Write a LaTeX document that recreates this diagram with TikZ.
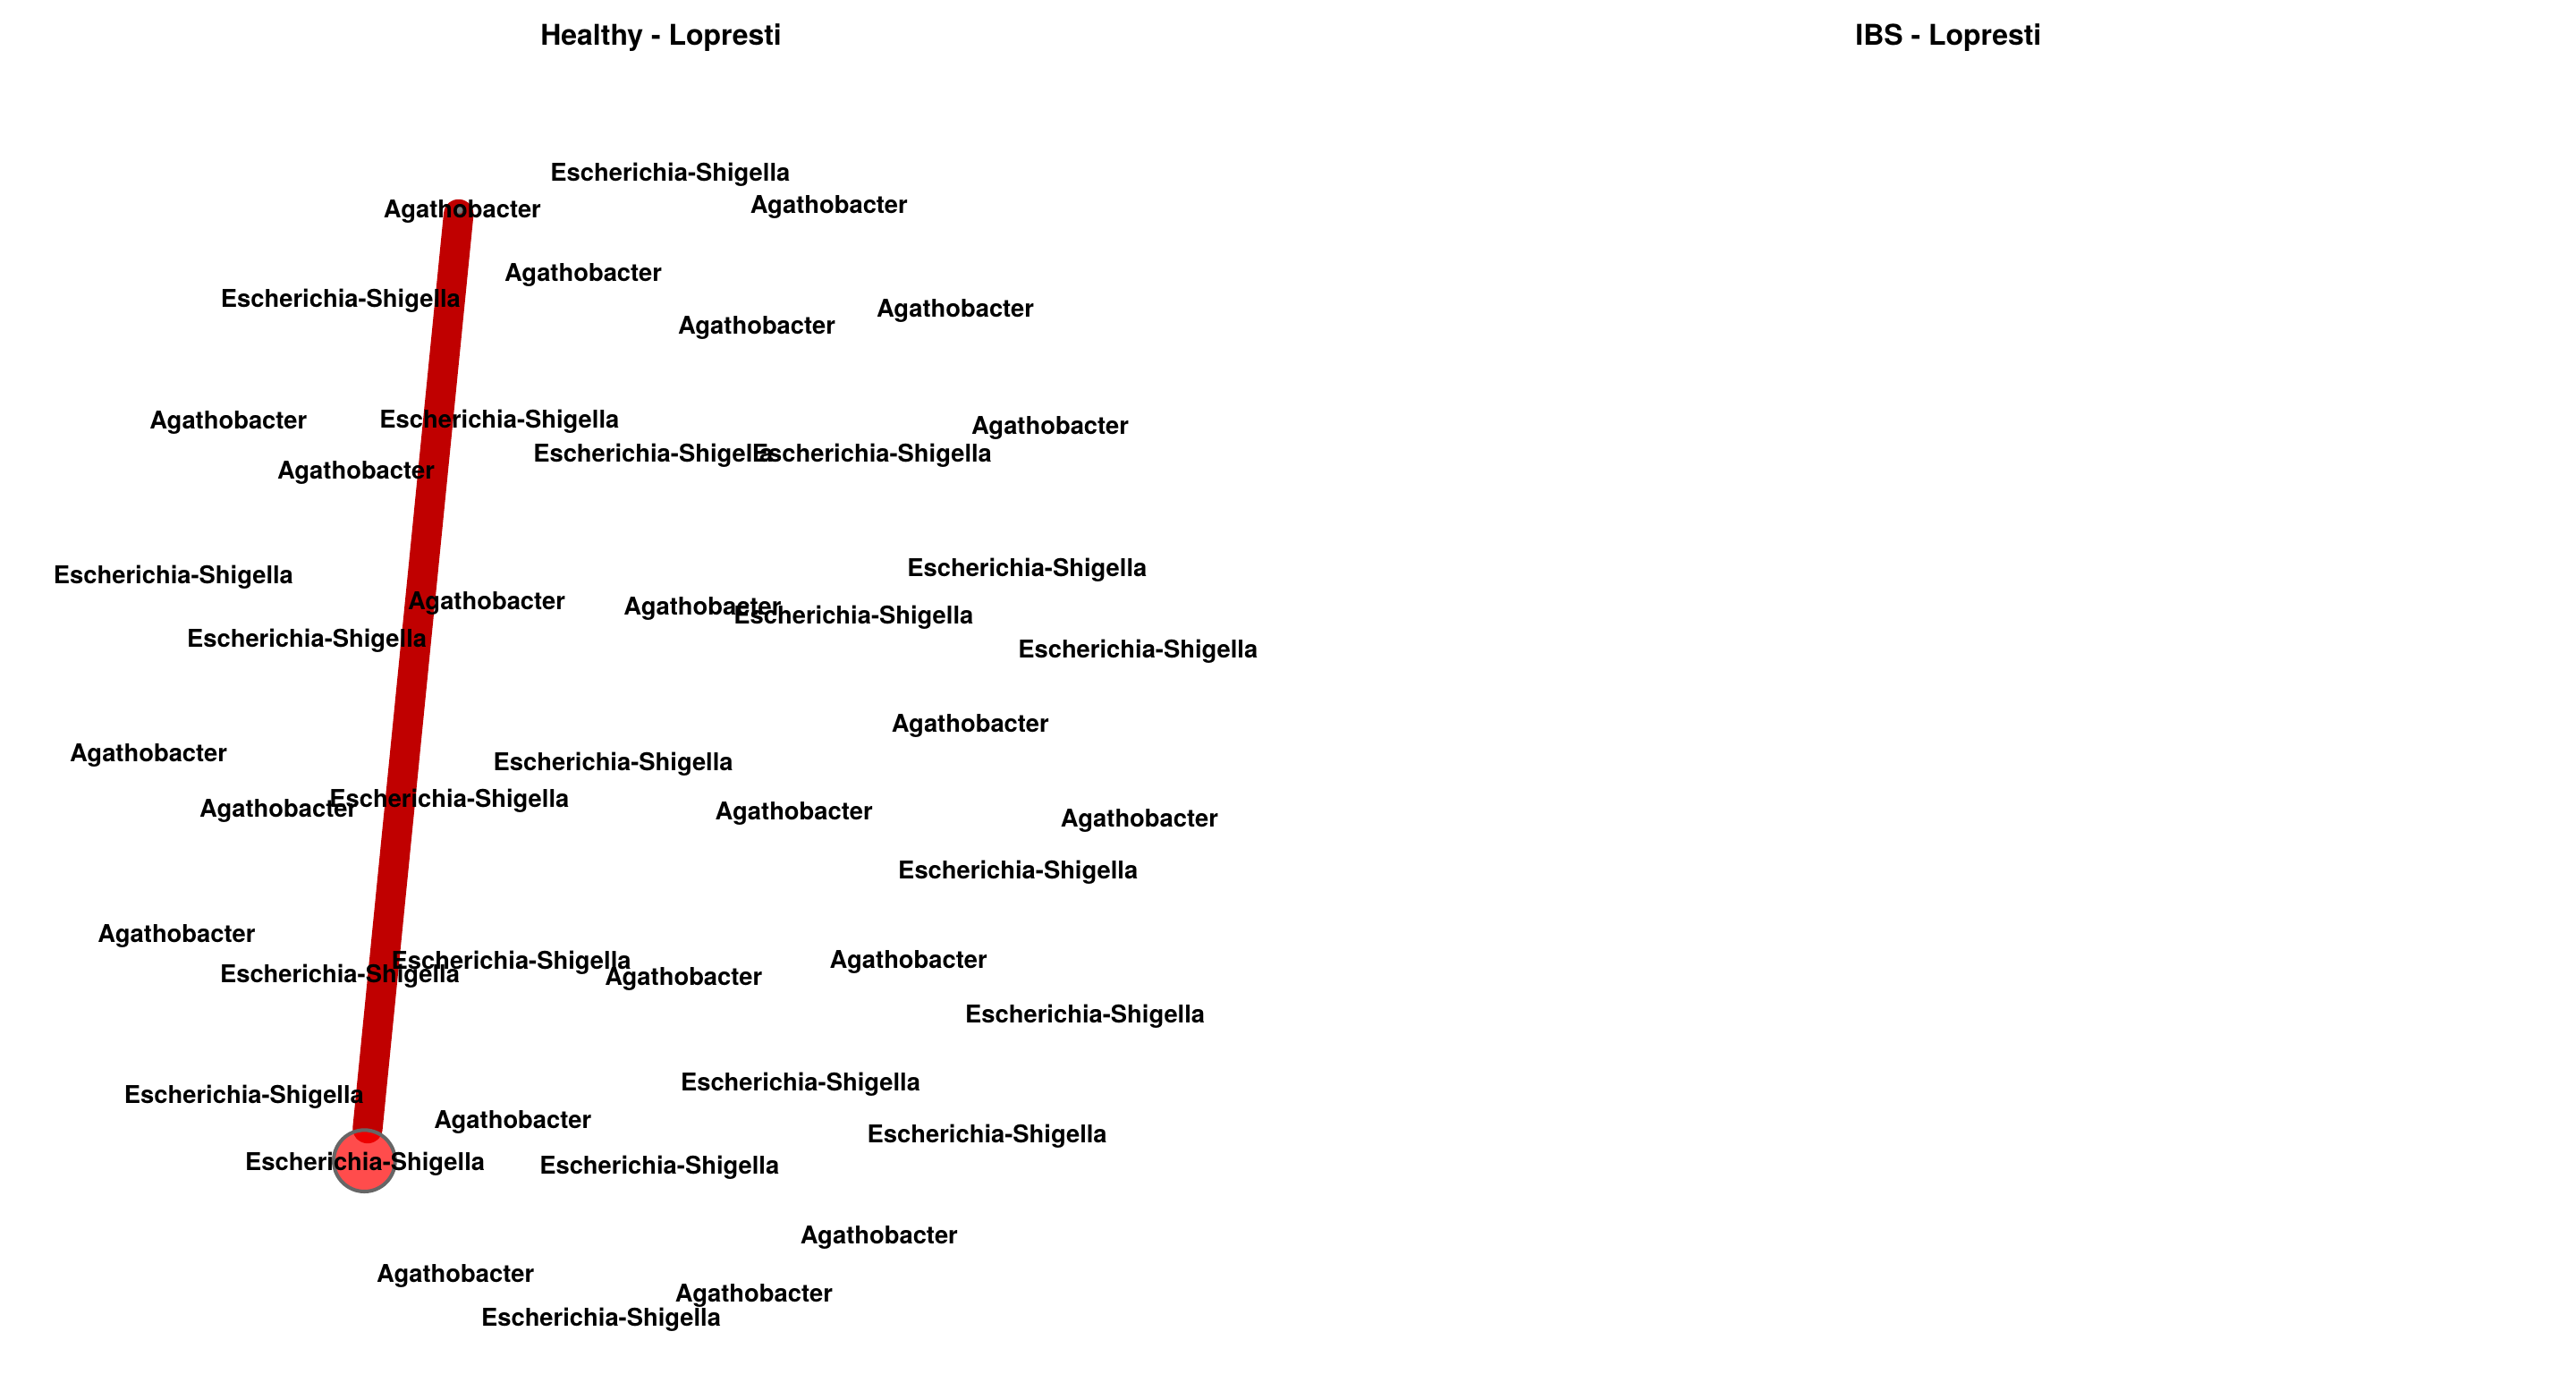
\documentclass[tikz,border=0pt]{standalone}
\usepackage{fontspec}
\setmainfont{TeX Gyre Heros}
\usetikzlibrary{backgrounds}
\definecolor{edgered}{RGB}{192,0,0}
\definecolor{nodeborder}{RGB}{102,102,102}
\tikzset{
  lbl/.style={inner sep=0pt, outer sep=0pt, text height=0.72em, text depth=0pt, anchor=center, yshift=-1.5pt,
              font=\fontsize{14.9pt}{16pt}\selectfont\bfseries},
  ttl/.style={inner sep=0pt, outer sep=0pt, text height=0.72em, text depth=0pt, anchor=center, yshift=-2pt,
              font=\fontsize{17.4pt}{19pt}\selectfont\bfseries},
  bignode/.style={circle, minimum size=37.4pt, inner sep=0pt, fill=red, fill opacity=0.7,
                  draw=nodeborder, draw opacity=1, line width=2.2pt},
  smallnode/.style={circle, minimum size=4.6pt, inner sep=0pt, fill={rgb,255:red,128;green,128;blue,128},
                  draw=nodeborder, line width=0.6pt},
  edgeline/.style={draw=edgered, line width=18.2pt, line cap=round},
}
\begin{document}
\begin{tikzpicture}[x=1pt, y=-1pt]
\useasboundingbox (0,0) rectangle (1568,836);
% titles
\node[ttl] (t1) at (402.4,21.8) {Healthy - Lopresti};
\node[ttl] (t2) at (1186,21.8) {IBS - Lopresti};
% graph nodes
\node[smallnode] (top) at (279.4,127.8) {};
\node[bignode] (bot) at (221.8,706.5) {};
\begin{pgfonlayer}{background}
\draw[edgeline] (top) -- (bot);
\end{pgfonlayer}
% labels
\node[lbl] (n1) at (408,105.3) {Escherichia-Shigella};
\node[lbl] (n2) at (281.4,127.7) {Agathobacter};
\node[lbl] (n3) at (504.6,124.9) {Agathobacter};
\node[lbl] (n4) at (355,166) {Agathobacter};
\node[lbl] (n5) at (207.4,182) {Escherichia-Shigella};
\node[lbl] (n6) at (460.6,198) {Agathobacter};
\node[lbl] (n7) at (581.5,187.8) {Agathobacter};
\node[lbl] (n8) at (139,255.9) {Agathobacter};
\node[lbl] (n9) at (304,255.2) {Escherichia-Shigella};
\node[lbl] (n10) at (397.6,276) {Escherichia-Shigella};
\node[lbl] (n11) at (530.8,276) {Escherichia-Shigella};
\node[lbl] (n12) at (639.2,259.4) {Agathobacter};
\node[lbl] (n13) at (216.7,286.6) {Agathobacter};
\node[lbl] (n14) at (105.6,350.4) {Escherichia-Shigella};
\node[lbl] (n15) at (625.2,345.6) {Escherichia-Shigella};
\node[lbl] (n16) at (296.2,365.7) {Agathobacter};
\node[lbl] (n17) at (427.6,369.4) {Agathobacter};
\node[lbl] (n18) at (519.6,374.4) {Escherichia-Shigella};
\node[lbl] (n19) at (186.8,389) {Escherichia-Shigella};
\node[lbl] (n20) at (692.7,395.2) {Escherichia-Shigella};
\node[lbl] (n21) at (590.6,440.6) {Agathobacter};
\node[lbl] (n22) at (90.4,458.6) {Agathobacter};
\node[lbl] (n23) at (373.3,464.2) {Escherichia-Shigella};
\node[lbl] (n24) at (169.4,492.1) {Agathobacter};
\node[lbl] (n25) at (273.5,486.1) {Escherichia-Shigella};
\node[lbl] (n26) at (483.3,493.8) {Agathobacter};
\node[lbl] (n27) at (693.6,498.2) {Agathobacter};
\node[lbl] (n28) at (619.7,529.8) {Escherichia-Shigella};
\node[lbl] (n29) at (107.5,568.7) {Agathobacter};
\node[lbl] (n30) at (553,584.3) {Agathobacter};
\node[lbl] (n31) at (311.2,585) {Escherichia-Shigella};
\node[lbl] (n32) at (206.9,593) {Escherichia-Shigella};
\node[lbl] (n33) at (416.1,594.4) {Agathobacter};
\node[lbl] (n34) at (660.5,617.3) {Escherichia-Shigella};
\node[lbl] (n35) at (487.3,658.6) {Escherichia-Shigella};
\node[lbl] (n36) at (148.6,666.4) {Escherichia-Shigella};
\node[lbl] (n37) at (312.1,681.7) {Agathobacter};
\node[lbl] (n38) at (600.9,690.3) {Escherichia-Shigella};
\node[lbl] (n39) at (222.2,707.2) {Escherichia-Shigella};
\node[lbl] (n40) at (401.4,709.7) {Escherichia-Shigella};
\node[lbl] (n41) at (535.1,752.2) {Agathobacter};
\node[lbl] (n42) at (277.2,775.3) {Agathobacter};
\node[lbl] (n43) at (458.9,787.4) {Agathobacter};
\node[lbl] (n44) at (365.9,802) {Escherichia-Shigella};
\end{tikzpicture}
\end{document}
